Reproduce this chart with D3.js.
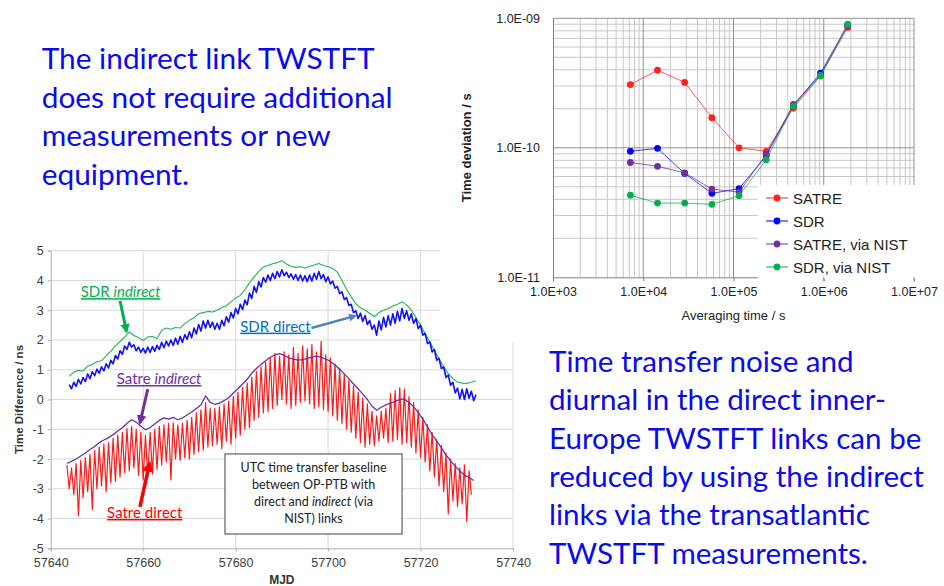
<!DOCTYPE html>
<html>
<head>
<meta charset="utf-8">
<script src="https://cdn.jsdelivr.net/npm/d3@7"></script>
<style>
  body { margin: 0; background: #fff; }
  svg { display: block; font-family: "Liberation Sans", Arial, sans-serif; }
</style>
</head>
<body>
<svg id="vis" width="944" height="586"></svg>
<script>
// ---------- data: time series (bottom-left chart) ----------
const mjdTicks = [57640, 57660, 57680, 57700, 57720, 57740];
const tdTicks = [-5, -4, -3, -2, -1, 0, 1, 2, 3, 4, 5];

// SDR indirect, daily from MJD 57644
const sdrIndStart = 57644, sdrIndStep = 1;
const sdrIndirect = [0.78,0.92,0.98,0.95,1.12,1.18,1.27,1.30,1.47,1.62,1.80,1.95,2.10,2.27,2.15,2.08,1.98,2.10,2.12,2.05,
  2.33,2.40,2.36,2.42,2.40,2.55,2.66,2.75,2.88,2.92,2.96,2.94,3.00,3.08,3.15,3.28,3.40,3.50,3.68,3.92,
  4.12,4.30,4.45,4.50,4.56,4.60,4.66,4.55,4.48,4.44,4.46,4.42,4.48,4.52,4.57,4.50,4.47,4.40,4.28,4.00,
  3.70,3.45,3.22,3.08,3.00,2.90,2.78,2.92,3.00,3.05,3.14,3.20,3.28,3.18,3.00,2.75,2.50,2.22,1.94,1.65,
  1.38,1.10,0.87,0.70,0.59,0.55,0.54,0.58,0.63];

// SDR direct, half-daily from MJD 57644
const sdrDirStart = 57644, sdrDirStep = 0.5;
const sdrDirect = [0.50,0.36,0.58,0.44,0.68,0.52,0.74,0.60,0.86,0.70,0.93,0.80,1.02,0.88,1.10,0.96,1.20,1.06,1.32,1.20,
  1.48,1.36,1.64,1.52,1.80,1.68,1.92,1.76,1.84,1.64,1.76,1.58,1.72,1.56,1.76,1.58,1.78,1.62,1.82,1.68,
  1.92,1.74,1.96,1.80,2.00,1.82,2.06,1.86,2.12,1.92,2.18,2.02,2.28,2.08,2.40,2.20,2.52,2.30,2.64,2.40,
  2.66,2.42,2.60,2.36,2.56,2.36,2.66,2.48,2.78,2.60,2.92,2.74,3.06,2.88,3.20,3.02,3.34,3.18,3.58,3.40,
  3.80,3.60,3.96,3.78,4.10,3.94,4.18,4.00,4.24,4.06,4.30,4.12,4.36,4.16,4.28,4.10,4.22,4.04,4.20,4.00,
  4.18,3.98,4.16,3.96,4.18,3.98,4.24,4.04,4.30,4.06,4.20,3.96,4.12,3.88,3.98,3.74,3.80,3.56,3.62,3.36,
  3.42,3.16,3.20,2.92,2.98,2.72,2.90,2.62,2.82,2.52,2.66,2.36,2.50,2.16,2.64,2.34,2.76,2.44,2.82,2.50,
  2.88,2.56,2.96,2.64,3.06,2.72,2.98,2.66,2.88,2.56,2.72,2.38,2.50,2.16,2.22,1.88,1.94,1.60,1.68,1.32,
  1.38,1.04,1.10,0.74,0.82,0.48,0.58,0.22,0.38,0.02,0.34,0.00,0.36,0.04,0.28,-0.04,0.16];

// Satre indirect, daily from MJD 57643.5
const satIndStart = 57643.5, satIndStep = 1;
const satreIndirect = [-2.15,-2.08,-2.00,-1.90,-1.80,-1.68,-1.58,-1.45,-1.36,-1.28,-1.18,-1.06,-0.95,-0.80,-0.68,-0.76,-0.90,-1.02,-0.94,-0.82,
  -0.70,-0.62,-0.66,-0.60,-0.68,-0.62,-0.52,-0.42,-0.30,-0.18,0.12,-0.10,-0.16,-0.12,-0.04,0.06,0.22,0.36,0.52,0.68,
  0.88,1.04,1.18,1.30,1.42,1.50,1.54,1.48,1.40,1.36,1.32,1.34,1.38,1.42,1.46,1.42,1.36,1.28,1.16,1.02,
  0.86,0.70,0.52,0.36,0.18,0.00,-0.22,-0.36,-0.26,-0.18,-0.12,-0.06,0.00,0.02,-0.10,-0.24,-0.44,-0.66,-0.92,-1.18,
  -1.40,-1.62,-1.86,-2.06,-2.24,-2.40,-2.54,-2.62,-2.72];

// Satre direct, half-daily from MJD 57643.5
const satDirStart = 57643.5, satDirStep = 0.5;
const satreDirect = [-2.20,-3.00,-2.30,-3.20,-2.15,-3.90,-2.05,-3.30,-1.95,-3.10,-1.85,-3.70,-1.72,-3.00,-1.60,-2.90,-1.50,-3.10,-1.45,-2.80,
  -1.30,-2.75,-1.20,-2.60,-1.10,-2.45,-0.98,-2.40,-0.90,-2.30,-1.00,-2.55,-1.10,-2.70,-1.20,-2.60,-1.10,-2.50,-1.00,-2.35,
  -0.90,-2.20,-0.85,-2.10,-0.80,-2.70,-0.78,-2.00,-0.85,-2.05,-0.80,-1.95,-0.70,-2.00,-0.60,-1.85,-0.45,-1.75,-0.35,-1.70,
  -0.10,-1.60,-0.30,-1.55,-0.30,-1.50,-0.25,-1.65,-0.15,-1.40,-0.05,-1.50,0.10,-1.30,0.25,-1.20,0.40,-1.00,0.55,-0.95,
  0.75,-0.70,0.95,-0.60,1.10,-0.45,1.25,-0.40,1.40,-0.30,1.55,-0.20,1.45,0.00,1.60,-0.15,1.50,-0.30,1.75,-0.20,
  1.55,-0.10,1.80,-0.05,1.70,-0.15,1.85,-0.30,1.60,-0.25,1.95,-0.35,1.50,-0.40,1.40,-0.55,1.20,-0.70,1.05,-0.80,
  0.85,-1.00,0.65,-1.10,0.45,-1.30,0.25,-1.45,0.05,-1.60,-0.15,-1.50,-0.40,-1.55,-0.55,-1.40,-0.40,-1.30,-0.30,-1.45,
  0.20,-1.40,0.30,-1.35,0.40,-1.50,0.35,-1.45,0.10,-1.60,-0.10,-1.80,-0.35,-1.95,-0.60,-2.10,-0.85,-2.40,-1.10,-2.60,
  -1.35,-2.90,-1.55,-3.10,-1.80,-3.85,-2.00,-3.40,-2.15,-3.60,-2.30,-3.50,-2.20,-4.10,-2.40,-3.20];

// annotation labels and arrows, in data units [mjd, ns]
const labels = [
  { parts: [["SDR ", false], ["indirect", true]], at: [57646.5, 3.44], color: "#00b050" },
  { parts: [["SDR direct", false]], at: [57681.0, 2.28], color: "#0070c0" },
  { parts: [["Satre ", false], ["indirect", true]], at: [57654.3, 0.52], color: "#7030a0" },
  { parts: [["Satre direct", false]], at: [57652.2, -3.98], color: "#ff0000" }
];
const arrows = [
  { from: [57655.0, 3.32], to: [57656.4, 2.28], color: "#00b050", w: 3 },
  { from: [57696.4, 2.40], to: [57705.9, 2.81], color: "#4f81bd", w: 2.5 },
  { from: [57661.0, 0.35], to: [57659.3, -0.79], color: "#7030a0", w: 3 },
  { from: [57659.3, -3.61], to: [57661.4, -2.13], color: "#ff0000", w: 3.5 }
];
const boxLines = [[["UTC time transfer baseline", false]], [["between OP-PTB with", false]],
  [["direct and ", false], ["indirect", true], [" (via", false]], [["NIST) links", false]]];

// ---------- data: time deviation (top-right chart) ----------
const tau = [7200, 14400, 28800, 57600, 115200, 230400, 460800, 921600, 1843200];
const tdevSeries = [
  { name: "SATRE", color: "#ff2020", values: [3.08e-10, 3.97e-10, 3.2e-10, 1.71e-10, 1.0e-10, 9.4e-11, 2.03e-10, 3.6e-10, 8.5e-10] },
  { name: "SDR", color: "#0000ff", values: [9.4e-11, 9.9e-11, 6.34e-11, 4.45e-11, 4.83e-11, 8.7e-11, 2.12e-10, 3.77e-10, 8.9e-10] },
  { name: "SATRE, via NIST", color: "#7030a0", values: [7.7e-11, 7.2e-11, 6.4e-11, 4.8e-11, 4.55e-11, 8.9e-11, 2.16e-10, 3.63e-10, 8.8e-10] },
  { name: "SDR, via NIST", color: "#00b050", values: [4.31e-11, 3.74e-11, 3.74e-11, 3.66e-11, 4.27e-11, 8.08e-11, 2.1e-10, 3.6e-10, 9.0e-10] }
];
const tauTicks = [1e3, 1e4, 1e5, 1e6, 1e7];
const tdevTicks = [1e-11, 1e-10, 1e-9];

// ---------- slide texts ----------
const leftText = ["The indirect link TWSTFT", "does not require additional", "measurements or new", "equipment."];
const rightText = ["Time transfer noise and", "diurnal in the direct inner-", "Europe TWSTFT links can be",
  "reduced by using the indirect", "links via the transatlantic", "TWSTFT measurements."];

const svg = d3.select("#vis");
const slideFont = "Lato, 'Open Sans', sans-serif";

// ================= bottom-left chart =================
const bx = d3.scaleLinear().domain([57640, 57740]).range([50.7, 513]);
const by = d3.scaleLinear().domain([-5, 5]).range([548.3, 250.7]);
const bG = svg.append("g");

bG.selectAll("line.vg").data(mjdTicks.slice(1)).join("line")
    .attr("x1", d => bx(d)).attr("x2", d => bx(d))
    .attr("y1", by(5)).attr("y2", by(-5))
    .attr("stroke", "#d9d9d9");
bG.selectAll("line.hg").data(tdTicks.slice(1)).join("line")
    .attr("x1", bx(57640)).attr("x2", bx(57740))
    .attr("y1", d => by(d)).attr("y2", d => by(d))
    .attr("stroke", "#d9d9d9");

const yAxB = bG.append("g")
    .attr("transform", `translate(${bx(57640)},0)`)
    .call(d3.axisLeft(by).tickValues(tdTicks).tickSize(3).tickPadding(4).tickFormat(d => String(d)));
const xAxB = bG.append("g")
    .attr("transform", `translate(0,${by(-5)})`)
    .call(d3.axisBottom(bx).tickValues(mjdTicks).tickSize(3).tickPadding(7).tickFormat(d => String(d)));
[yAxB, xAxB].forEach(a => {
  a.select(".domain").attr("stroke", "#b0b0b0");
  a.selectAll(".tick line").attr("stroke", "#b0b0b0");
  a.selectAll(".tick text").attr("fill", "#404040")
    .style("font-size", "12.5px").style("font-family", "'Liberation Sans', Arial, sans-serif");
});

const series = [
  { v: sdrIndirect, s: sdrIndStart, st: sdrIndStep, c: "#1fb35a", w: 1.1 },
  { v: sdrDirect, s: sdrDirStart, st: sdrDirStep, c: "#1010ff", w: 1.6 },
  { v: satreDirect, s: satDirStart, st: satDirStep, c: "#ff1a1a", w: 1.2 },
  { v: satreIndirect, s: satIndStart, st: satIndStep, c: "#7030a0", w: 1.3 }
];
series.forEach(sr => {
  const line = d3.line().x((d, i) => bx(sr.s + i * sr.st)).y(d => by(d));
  bG.append("path").datum(sr.v)
    .attr("d", line).attr("fill", "none")
    .attr("stroke", sr.c).attr("stroke-width", sr.w).attr("stroke-linejoin", "round");
});

// arrows
const defs = svg.append("defs");
arrows.forEach((a, i) => {
  defs.append("marker").attr("id", "ah" + i)
    .attr("viewBox", "0 0 10 10").attr("refX", 8).attr("refY", 5)
    .attr("markerWidth", 3.2).attr("markerHeight", 3.2).attr("orient", "auto")
    .append("path").attr("d", "M0,0 L10,5 L0,10 z").attr("fill", a.color);
  bG.append("line")
    .attr("x1", bx(a.from[0])).attr("y1", by(a.from[1]))
    .attr("x2", bx(a.to[0])).attr("y2", by(a.to[1]))
    .attr("stroke", a.color).attr("stroke-width", a.w)
    .attr("marker-end", `url(#ah${i})`);
});

function addParts(t, parts) {
  parts.forEach(([txt, it]) => t.append("tspan").text(txt).style("font-style", it ? "italic" : "normal"));
}
labels.forEach(l => {
  const t = bG.append("text")
    .attr("x", bx(l.at[0])).attr("y", by(l.at[1]))
    .attr("fill", l.color)
    .style("font-family", slideFont).style("font-size", "15px")
    .style("text-decoration", "underline");
  addParts(t, l.parts);
});

// note box
bG.append("rect")
  .attr("x", bx(57677.7)).attr("y", by(-1.83))
  .attr("width", bx(57716.0) - bx(57677.7)).attr("height", by(-4.52) - by(-1.83))
  .attr("fill", "#fff").attr("stroke", "#404040").attr("stroke-width", 1);
const boxY = [-2.43, -3.01, -3.58, -4.14];
boxLines.forEach((parts, i) => {
  const t = bG.append("text")
    .attr("x", bx(57696.85)).attr("y", by(boxY[i]))
    .attr("text-anchor", "middle").attr("fill", "#222")
    .style("font-family", slideFont).style("font-size", "12.5px");
  addParts(t, parts);
});

bG.append("text")
  .attr("x", (bx(57640) + bx(57740)) / 2).attr("y", 584)
  .attr("text-anchor", "middle").attr("fill", "#333")
  .style("font-size", "12px").style("font-weight", "bold")
  .text("MJD");
bG.append("text")
  .attr("transform", `translate(23,${by(0)}) rotate(-90)`)
  .attr("text-anchor", "middle").attr("fill", "#333")
  .style("font-size", "11.5px").style("font-weight", "bold")
  .text("Time Difference / ns");

// ================= top-right chart =================
svg.append("rect").attr("x", 440).attr("y", 0).attr("width", 504).attr("height", 342).attr("fill", "#fff");

const tx = d3.scaleLog().domain([1e3, 1e7]).range([553, 914]);
const ty = d3.scaleLog().domain([1e-11, 1e-9]).range([277.3, 18.3]);
const tG = svg.append("g");

const xMinor = [], yMinor = [];
for (let k = 3; k < 7; k++) for (let m = 2; m < 10; m++) xMinor.push(m * Math.pow(10, k));
for (let k = -11; k < -9; k++) for (let m = 2; m < 10; m++) yMinor.push(m * Math.pow(10, k));

tG.selectAll("line.xm").data(xMinor).join("line")
  .attr("x1", d => tx(d)).attr("x2", d => tx(d)).attr("y1", ty(1e-9)).attr("y2", ty(1e-11))
  .attr("stroke", "#c8c8c8");
tG.selectAll("line.ym").data(yMinor).join("line")
  .attr("x1", tx(1e3)).attr("x2", tx(1e7)).attr("y1", d => ty(d)).attr("y2", d => ty(d))
  .attr("stroke", "#c8c8c8");
tG.selectAll("line.xM").data(tauTicks.slice(1)).join("line")
  .attr("x1", d => tx(d)).attr("x2", d => tx(d)).attr("y1", ty(1e-9)).attr("y2", ty(1e-11))
  .attr("stroke", "#909090");
tG.selectAll("line.yM").data(tdevTicks.slice(1)).join("line")
  .attr("x1", tx(1e3)).attr("x2", tx(1e7)).attr("y1", d => ty(d)).attr("y2", d => ty(d))
  .attr("stroke", "#909090");

const expFmt = d => {
  const e = Math.round(Math.log10(d));
  const s = e < 0 ? "-" : "+";
  return "1.0E" + s + String(Math.abs(e)).padStart(2, "0");
};
const xAxT = tG.append("g").attr("transform", `translate(0,${ty(1e-11)})`)
  .call(d3.axisBottom(tx).tickValues(tauTicks).tickSize(4).tickPadding(6).tickFormat(expFmt));
const yAxT = tG.append("g").attr("transform", `translate(${tx(1e3)},0)`)
  .call(d3.axisLeft(ty).tickValues(tdevTicks).tickSize(0).tickPadding(13).tickFormat(expFmt));
[xAxT, yAxT].forEach(a => {
  a.select(".domain").attr("stroke", "#808080");
  a.selectAll(".tick line").attr("stroke", "#808080");
  a.selectAll(".tick text").attr("fill", "#222")
    .style("font-size", "12.5px").style("font-family", "'Liberation Sans', Arial, sans-serif");
});

tdevSeries.forEach(sr => {
  const line = d3.line().x((d, i) => tx(tau[i])).y(d => ty(d));
  tG.append("path").datum(sr.values).attr("d", line)
    .attr("fill", "none").attr("stroke", sr.color).attr("stroke-width", 1).attr("stroke-opacity", 0.75);
  tG.selectAll(null).data(sr.values).join("circle")
    .attr("cx", (d, i) => tx(tau[i])).attr("cy", d => ty(d)).attr("r", 3.4)
    .attr("fill", sr.color);
});

// legend
const lg = tG.append("g");
lg.append("rect").attr("x", 758).attr("y", 185).attr("width", 160).attr("height", 94).attr("fill", "#fff");
tdevSeries.forEach((sr, i) => {
  const yy = 198 + i * 23;
  lg.append("line").attr("x1", 766).attr("x2", 788).attr("y1", yy).attr("y2", yy)
    .attr("stroke", sr.color).attr("stroke-width", 1);
  lg.append("circle").attr("cx", 777).attr("cy", yy).attr("r", 3.4).attr("fill", sr.color);
  lg.append("text").attr("x", 793).attr("y", yy + 5.5).attr("fill", "#222")
    .style("font-size", "15px").text(sr.name);
});

// ticks at 1e6 / 1e7 stay visible under the legend box
tG.selectAll("line.tk").data([1e6, 1e7]).join("line")
  .attr("x1", d => tx(d)).attr("x2", d => tx(d)).attr("y1", ty(1e-11)).attr("y2", ty(1e-11) + 4)
  .attr("stroke", "#808080");

tG.append("text").attr("x", (tx(1e3) + tx(1e7)) / 2).attr("y", 320)
  .attr("text-anchor", "middle").attr("fill", "#222").style("font-size", "13px")
  .text("Averaging time / s");
tG.append("text").attr("transform", `translate(471,${(ty(1e-9) + ty(1e-11)) / 2}) rotate(-90)`)
  .attr("text-anchor", "middle").attr("fill", "#222")
  .style("font-size", "13px").style("font-weight", "bold")
  .text("Time deviation / s");

// ================= slide texts =================
function textBlock(lines, x, y0, dy, refIdx, refWidth) {
  const g = svg.append("g");
  const ts = g.selectAll("text").data(lines).join("text")
    .attr("x", x).attr("y", (d, i) => y0 + i * dy)
    .attr("fill", "#0a0af0")
    .style("font-family", slideFont).style("font-size", "28px")
    .text(d => d);
  const w = ts.nodes()[refIdx].getComputedTextLength();
  ts.style("font-size", (28 * refWidth / w) + "px");
}
textBlock(leftText, 41.7, 69, 38.6, 1, 351);
textBlock(rightText, 549, 372, 38.3, 3, 375);
</script>
</body>
</html>
